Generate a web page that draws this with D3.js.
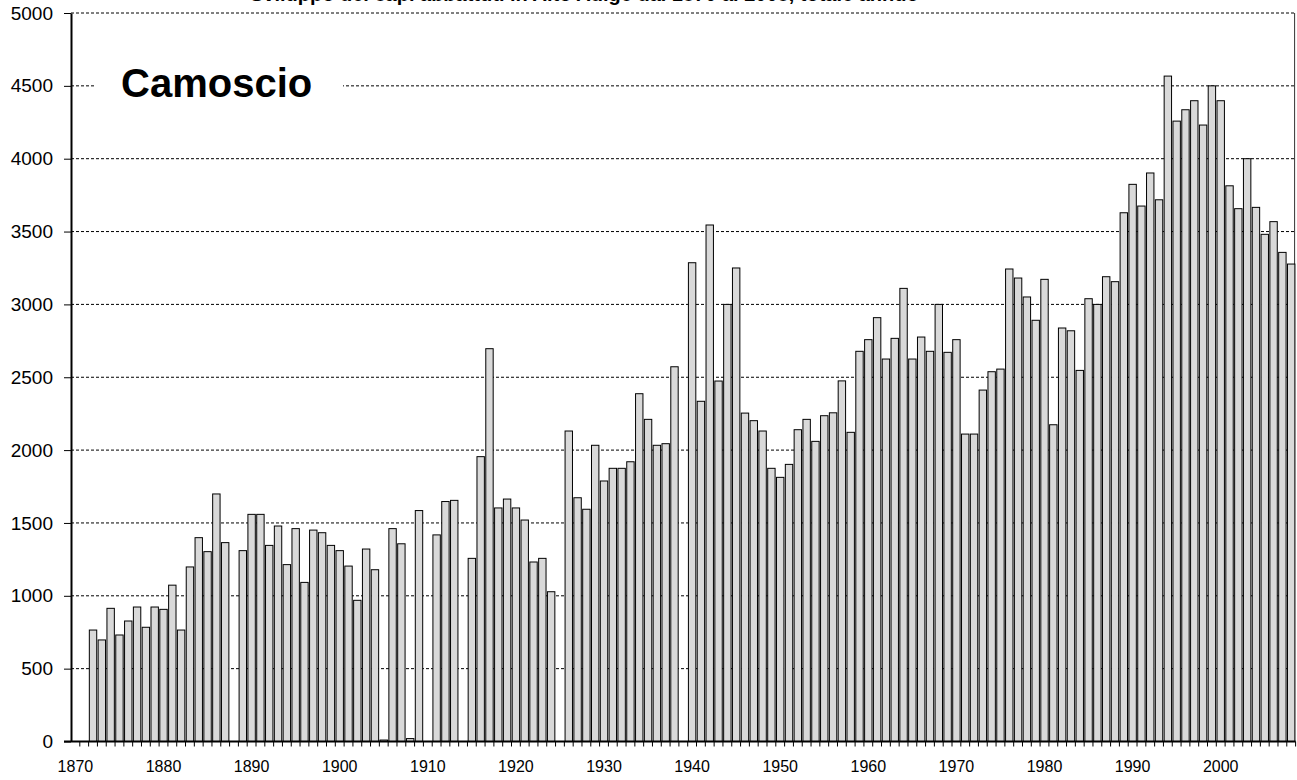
<!DOCTYPE html>
<html>
<head>
<meta charset="utf-8">
<script src="https://cdn.jsdelivr.net/npm/d3@7"></script>
<style>
  body { margin: 0; background: #fff; }
  svg { display: block; font-family: Arial, "Liberation Sans", sans-serif; }
  .grid line { stroke: #000; stroke-dasharray: 3,2; stroke-width: 1; }
  .bar { fill: #d9d9d9; stroke: #000; stroke-width: 1; }
</style>
</head>
<body>
<div id="chart"></div>
<script>
// years on the category axis (1870 - 2008)
var years = d3.range(1870, 2009);

// shot animals per year, null = no data
var values = [
  null, null, 765, 697, 914, 731, 827, 923, 784, 923,          // 1870
  907, 1073, 765, 1198, 1399, 1303, 1699, 1365, null, 1310,    // 1880
  1559, 1559, 1346, 1479, 1214, 1461, 1092, 1451, 1433, 1346,  // 1890
  1310, 1204, 969, 1321, 1179, 10, 1461, 1357, 20, 1585,       // 1900
  null, 1418, 1647, 1655, null, 1257, 1955, 2696, 1603, 1664,  // 1910
  1603, 1520, 1232, 1257, 1028, null, 2131, 1673, 1594, 2033,  // 1920
  1788, 1875, 1875, 1920, 2387, 2211, 2033, 2044, 2572, null,  // 1930
  3286, 2335, 3545, 2474, 3000, 3250, 2254, 2202, 2131, 1875,  // 1940
  1813, 1902, 2140, 2211, 2060, 2236, 2256, 2475, 2122, 2678,  // 1950
  2758, 2909, 2625, 2767, 3110, 2625, 2776, 2678, 3000, 2671,  // 1960
  2758, 2110, 2110, 2412, 2538, 2556, 3243, 3181, 3051, 2891,  // 1970
  3172, 2174, 2838, 2819, 2547, 3039, 3000, 3190, 3156, 3629,  // 1980
  3824, 3675, 3902, 3718, 4567, 4258, 4336, 4398, 4231, 4500,  // 1990
  4398, 3814, 3657, 4000, 3666, 3481, 3568, 3357, 3277         // 2000
];

var yTicks = d3.range(0, 5001, 500);
var xLabels = d3.range(1870, 2001, 10);

var title = "Sviluppo dei capi abbattuti in Alto Adige dal 1870 al 2008, totale annuo";
var label = "Camoscio";

var chart = {
    width: 1297,
    height: 780,
    left: 71,
    right: 1295.6,
    plotTop: 13,
    bottom: 741.5
};

function draw(c) {
    var svg = d3.select("#chart").append("svg")
        .attr("width", c.width)
        .attr("height", c.height);

    var x = d3.scaleBand()
        .domain(years)
        .range([c.left, c.right]);

    var y = d3.scaleLinear()
        .domain([0, 5000])
        .range([c.bottom, c.plotTop]);

    var data = years.map(function(yr, i) { return {year: yr, value: values[i]}; })
        .filter(function(d) { return d.value != null; });

    // dashed gridlines
    svg.append("g")
        .attr("class", "grid")
        .selectAll("line")
        .data(yTicks.filter(function(t) { return t > 0; }))
        .enter()
        .append("line")
        .attr("x1", c.left)
        .attr("x2", c.right)
        .attr("y1", function(d) { return y(d); })
        .attr("y2", function(d) { return y(d); });

    // right border of the plot
    svg.append("line")
        .attr("x1", c.right - 1).attr("x2", c.right - 1)
        .attr("y1", c.plotTop).attr("y2", c.bottom)
        .attr("stroke", "#333")
        .attr("stroke-width", 1);

    // label box in the plot
    svg.append("rect")
        .attr("x", 95)
        .attr("y", 68)
        .attr("width", 248)
        .attr("height", 38)
        .attr("fill", "#fff");

    svg.append("text")
        .attr("x", 121)
        .attr("y", 97)
        .style("font-size", "40px")
        .style("font-weight", "bold")
        .text(label);

    // bars
    var pad = x.bandwidth() * 0.08;
    svg.selectAll(".bar")
        .data(data)
        .enter()
        .append("rect")
        .attr("class", "bar")
        .attr("x", function(d) { return x(d.year) + pad; })
        .attr("width", x.bandwidth() - 2 * pad)
        .attr("y", function(d) { return y(d.value); })
        .attr("height", function(d) { return y(0) - y(d.value); });

    // y axis
    var yAxis = d3.axisLeft(y)
        .tickValues(yTicks)
        .tickFormat(d3.format("d"))
        .tickSize(7)
        .tickPadding(11)
        .tickSizeOuter(0);

    var gy = svg.append("g")
        .attr("transform", "translate(" + c.left + ",0)")
        .call(yAxis);
    gy.select(".domain").attr("stroke-width", 2);
    gy.selectAll("text").style("font-size", "19px").attr("fill", "#000");

    // small ticks between the categories
    svg.append("g")
        .selectAll("line")
        .data(years)
        .enter()
        .append("line")
        .attr("x1", function(d) { return x(d) + x.bandwidth(); })
        .attr("x2", function(d) { return x(d) + x.bandwidth(); })
        .attr("y1", c.bottom)
        .attr("y2", c.bottom + 5)
        .attr("stroke", "#000");

    // x axis labels
    var xAxis = d3.axisBottom(x)
        .tickValues(xLabels)
        .tickSize(0)
        .tickPadding(19)
        .tickSizeOuter(0);

    var gx = svg.append("g")
        .attr("transform", "translate(0," + c.bottom + ")")
        .call(xAxis);
    gx.select(".domain").remove();
    gx.selectAll("text").style("font-size", "16px").attr("fill", "#000");

    svg.append("line")
        .attr("x1", c.left - 7)
        .attr("x2", c.right)
        .attr("y1", c.bottom)
        .attr("y2", c.bottom)
        .attr("stroke", "#000")
        .attr("stroke-width", 2);

    // title, only the bottom of it is left in the picture
    svg.append("text")
        .attr("x", 250)
        .attr("y", 0.5)
        .style("font-size", "20px")
        .style("font-weight", "bold")
        .text(title);
}

draw(chart);
</script>
</body>
</html>
